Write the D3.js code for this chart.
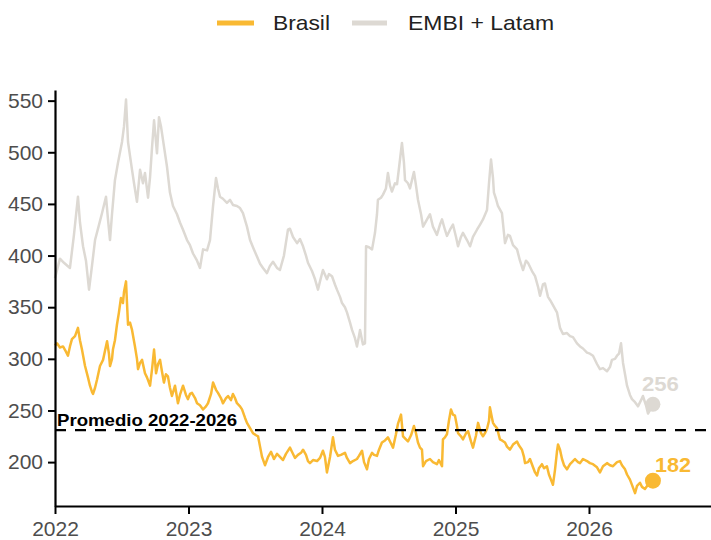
<!DOCTYPE html>
<html><head><meta charset="utf-8">
<script src="https://cdn.jsdelivr.net/npm/d3@7"></script>
<style>body{margin:0;background:#fff}svg{display:block}text{font-family:"Liberation Sans",Arial,sans-serif}</style>
</head><body><svg id="c" width="711" height="540"></svg>
<script>
const xYears = [2022, 2023, 2024, 2025, 2026];
const yTicks = [200, 250, 300, 350, 400, 450, 500, 550];
const seriesNames = ["Brasil", "EMBI + Latam"];
const promedioLabel = "Promedio 2022-2026";
const promedioValue = 231;

const brasilDates = [2022.000,2022.015,2022.037,2022.060,2022.082,2022.097,2022.112,2022.127,2022.150,2022.172,2022.187,2022.202,2022.225,2022.247,2022.262,2022.277,2022.285,2022.300,2022.315,2022.337,2022.360,2022.375,2022.390,2022.404,2022.412,2022.427,2022.434,2022.449,2022.464,2022.479,2022.494,2022.509,2022.517,2022.532,2022.539,2022.547,2022.562,2022.577,2022.599,2022.614,2022.622,2022.637,2022.652,2022.674,2022.689,2022.712,2022.727,2022.742,2022.757,2022.772,2022.787,2022.801,2022.816,2022.831,2022.846,2022.861,2022.876,2022.899,2022.921,2022.936,2022.959,2022.981,2022.996,2023.011,2023.026,2023.049,2023.064,2023.086,2023.109,2023.131,2023.146,2023.169,2023.184,2023.206,2023.221,2023.243,2023.258,2023.281,2023.296,2023.318,2023.333,2023.348,2023.363,2023.386,2023.401,2023.423,2023.438,2023.461,2023.483,2023.506,2023.521,2023.536,2023.551,2023.573,2023.596,2023.618,2023.640,2023.663,2023.685,2023.708,2023.730,2023.760,2023.775,2023.798,2023.820,2023.843,2023.858,2023.880,2023.895,2023.910,2023.933,2023.963,2023.985,2024.007,2024.022,2024.037,2024.060,2024.082,2024.097,2024.120,2024.142,2024.172,2024.187,2024.210,2024.232,2024.262,2024.277,2024.300,2024.315,2024.337,2024.352,2024.375,2024.390,2024.412,2024.427,2024.449,2024.472,2024.494,2024.517,2024.532,2024.554,2024.569,2024.592,2024.607,2024.629,2024.644,2024.667,2024.689,2024.704,2024.719,2024.734,2024.749,2024.757,2024.779,2024.809,2024.831,2024.861,2024.876,2024.899,2024.906,2024.921,2024.936,2024.951,2024.966,2024.981,2024.996,2025.011,2025.019,2025.041,2025.056,2025.079,2025.094,2025.116,2025.131,2025.154,2025.169,2025.191,2025.206,2025.221,2025.236,2025.251,2025.258,2025.273,2025.281,2025.296,2025.311,2025.333,2025.348,2025.371,2025.386,2025.408,2025.431,2025.461,2025.476,2025.498,2025.513,2025.521,2025.543,2025.558,2025.581,2025.596,2025.611,2025.625,2025.648,2025.663,2025.685,2025.700,2025.715,2025.730,2025.745,2025.760,2025.768,2025.783,2025.798,2025.813,2025.835,2025.858,2025.873,2025.895,2025.918,2025.933,2025.955,2025.985,2026.007,2026.030,2026.060,2026.082,2026.105,2026.135,2026.157,2026.180,2026.210,2026.232,2026.247,2026.270,2026.285,2026.307,2026.322,2026.345,2026.360,2026.382,2026.397,2026.419,2026.442,2026.457,2026.479];
const brasilValues = [313,315,311,312,307,303,312,319,322,330,318,309,293,282,274,268,266,272,280,293,299,308,317,305,293,300,309,318,333,345,359,354,365,375,355,333,335,328,312,300,290,296,299,286,282,274,290,309,286,295,299,288,277,285,283,272,264,274,257,265,274,265,261,266,267,262,257,255,251,254,257,266,277,270,267,262,257,262,264,260,266,262,257,254,251,243,238,233,228,226,225,215,205,197,205,210,203,208,205,202,208,214,210,204,207,209,212,207,201,199,202,201,204,211,205,190,205,224,212,206,207,209,204,199,201,203,206,211,200,193,203,209,207,206,212,219,221,224,218,214,227,237,246,225,222,220,226,235,228,219,214,212,196,201,203,200,198,202,196,222,224,227,240,251,246,245,235,228,225,222,228,230,220,214,226,238,228,225,228,232,240,253,243,238,235,233,222,221,219,215,212,217,220,216,212,205,199,200,203,195,190,187,194,198,194,196,188,183,178,192,210,217,212,203,197,193,198,200,203,200,199,203,201,199,198,195,190,196,199,197,196,200,201,197,193,188,183,178,170,177,180,176,174,178,180,182];

const embiDates = [2022.000,2022.037,2022.067,2022.112,2022.142,2022.172,2022.187,2022.210,2022.232,2022.255,2022.277,2022.300,2022.330,2022.352,2022.382,2022.397,2022.412,2022.427,2022.449,2022.472,2022.502,2022.517,2022.532,2022.547,2022.577,2022.592,2022.614,2022.637,2022.659,2022.674,2022.697,2022.712,2022.727,2022.742,2022.764,2022.779,2022.794,2022.809,2022.839,2022.861,2022.884,2022.914,2022.936,2022.959,2022.989,2023.011,2023.034,2023.064,2023.086,2023.109,2023.139,2023.161,2023.184,2023.206,2023.221,2023.236,2023.258,2023.288,2023.311,2023.333,2023.363,2023.386,2023.408,2023.438,2023.461,2023.483,2023.513,2023.536,2023.558,2023.588,2023.610,2023.633,2023.663,2023.685,2023.715,2023.745,2023.760,2023.783,2023.813,2023.835,2023.858,2023.880,2023.895,2023.925,2023.948,2023.970,2023.985,2024.007,2024.037,2024.052,2024.075,2024.097,2024.112,2024.135,2024.150,2024.172,2024.187,2024.210,2024.225,2024.247,2024.262,2024.277,2024.285,2024.300,2024.307,2024.322,2024.330,2024.352,2024.375,2024.397,2024.412,2024.419,2024.442,2024.457,2024.479,2024.494,2024.509,2024.524,2024.547,2024.562,2024.577,2024.599,2024.614,2024.622,2024.644,2024.659,2024.689,2024.704,2024.719,2024.742,2024.757,2024.787,2024.809,2024.831,2024.861,2024.884,2024.899,2024.921,2024.936,2024.959,2024.981,2025.004,2025.019,2025.041,2025.056,2025.086,2025.109,2025.131,2025.161,2025.184,2025.206,2025.236,2025.251,2025.266,2025.281,2025.288,2025.303,2025.318,2025.348,2025.371,2025.393,2025.408,2025.431,2025.461,2025.483,2025.506,2025.528,2025.543,2025.573,2025.596,2025.618,2025.633,2025.655,2025.670,2025.693,2025.708,2025.730,2025.760,2025.783,2025.805,2025.835,2025.858,2025.880,2025.910,2025.933,2025.955,2025.985,2026.007,2026.030,2026.060,2026.082,2026.105,2026.135,2026.157,2026.172,2026.195,2026.210,2026.225,2026.240,2026.255,2026.270,2026.285,2026.307,2026.322,2026.345,2026.367,2026.390,2026.404,2026.427,2026.442,2026.464,2026.479];
const embiValues = [378,397,393,388,420,457,432,409,395,367,390,415,430,441,457,435,415,440,473,490,510,525,551,510,483,470,452,483,470,480,456,476,505,531,499,534,525,512,486,461,448,440,432,425,415,410,402,395,388,406,405,415,448,475,465,457,455,451,454,449,448,446,441,428,415,408,399,392,388,383,390,394,388,386,400,425,426,418,412,416,409,400,393,385,377,367,375,386,377,382,380,372,367,360,354,350,345,335,328,320,312,322,328,318,314,315,409,408,406,422,440,454,456,459,465,480,468,462,470,469,485,509,490,473,470,465,481,468,454,440,428,435,440,428,420,430,435,425,419,425,430,418,409,418,422,415,409,418,425,430,435,444,470,493,475,461,455,448,441,412,420,419,410,406,395,386,395,393,385,380,370,361,372,373,360,357,352,345,330,324,325,322,321,315,312,310,306,305,303,295,290,291,288,292,299,300,303,305,315,296,285,274,265,261,258,254,260,264,255,247,252,256];

const colBrasil = "#F9B933", colEmbi = "#DDD9D3";
const svg = d3.select("#c");
const x = d3.scaleLinear().domain([2022, 2026.914]).range([55, 711]);
const y = d3.scaleLinear().domain([157.5, 560.3]).range([506, 90]);

const brasil = brasilDates.map((d, i) => ({t: d, v: brasilValues[i]}));
const embi = embiDates.map((d, i) => ({t: d, v: embiValues[i]}));
const line = d3.line().x(d => x(d.t)).y(d => y(d.v));

svg.append("path").datum(embi).attr("d", line).attr("fill", "none")
  .attr("stroke", colEmbi).attr("stroke-width", 2.5).attr("stroke-linejoin", "round");
svg.append("path").datum(brasil).attr("d", line).attr("fill", "none")
  .attr("stroke", colBrasil).attr("stroke-width", 2.5).attr("stroke-linejoin", "round");

// average line
svg.append("line").attr("x1", x(2022)).attr("x2", 711)
  .attr("y1", y(promedioValue)).attr("y2", y(promedioValue))
  .attr("stroke", "#000").attr("stroke-width", 2.2).attr("stroke-dasharray", "11,9");
svg.append("text").attr("x", 57).attr("y", y(promedioValue) - 4)
  .attr("font-size", 17).attr("font-weight", "bold").attr("fill", "#000")
  .attr("textLength", 180).attr("lengthAdjust", "spacingAndGlyphs").text(promedioLabel);

// end dots & labels
const lastE = embi[embi.length - 1], lastB = brasil[brasil.length - 1];
svg.append("circle").attr("cx", x(lastE.t)).attr("cy", y(lastE.v)).attr("r", 7.5).attr("fill", colEmbi);
svg.append("circle").attr("cx", x(lastB.t)).attr("cy", y(lastB.v)).attr("r", 8).attr("fill", colBrasil);
svg.append("text").attr("x", x(lastE.t) - 11).attr("y", y(lastE.v) - 13)
  .attr("font-size", 20).attr("font-weight", "bold").attr("fill", colEmbi)
  .attr("textLength", 37).attr("lengthAdjust", "spacingAndGlyphs").text(lastE.v);
svg.append("text").attr("x", x(lastB.t) + 2).attr("y", y(lastB.v) - 9)
  .attr("font-size", 20).attr("font-weight", "bold").attr("fill", colBrasil)
  .attr("textLength", 36).attr("lengthAdjust", "spacingAndGlyphs").text(lastB.v);

// axes
const gy = svg.append("g").attr("transform", "translate(55,0)")
  .call(d3.axisLeft(y).tickValues(yTicks).tickSize(7).tickSizeOuter(0).tickPadding(5));
const gx = svg.append("g").attr("transform", "translate(0,506)")
  .call(d3.axisBottom(x).tickValues(xYears).tickFormat(d3.format("d")).tickSize(8).tickSizeOuter(0).tickPadding(7));
[gx, gy].forEach(g => {
  g.select(".domain").attr("stroke", "#000").attr("stroke-width", 2.2);
  g.selectAll(".tick line").attr("stroke", "#000").attr("stroke-width", 2);
  g.selectAll(".tick text").attr("fill", "#4D4D4D").attr("font-size", 21)
    .attr("font-family", '"Liberation Sans", Arial, sans-serif');
});

// legend
const leg = [{name: seriesNames[0], c: colBrasil, x0: 217, x1: 254, tx: 273, tl: 57},
             {name: seriesNames[1], c: colEmbi, x0: 352, x1: 387, tx: 408, tl: 146}];
leg.forEach(l => {
  svg.append("line").attr("x1", l.x0).attr("x2", l.x1).attr("y1", 23).attr("y2", 23)
    .attr("stroke", l.c).attr("stroke-width", 5);
  svg.append("text").attr("x", l.tx).attr("y", 30).attr("font-size", 21).attr("fill", "#222")
    .attr("textLength", l.tl).attr("lengthAdjust", "spacingAndGlyphs").text(l.name);
});
</script></body></html>
